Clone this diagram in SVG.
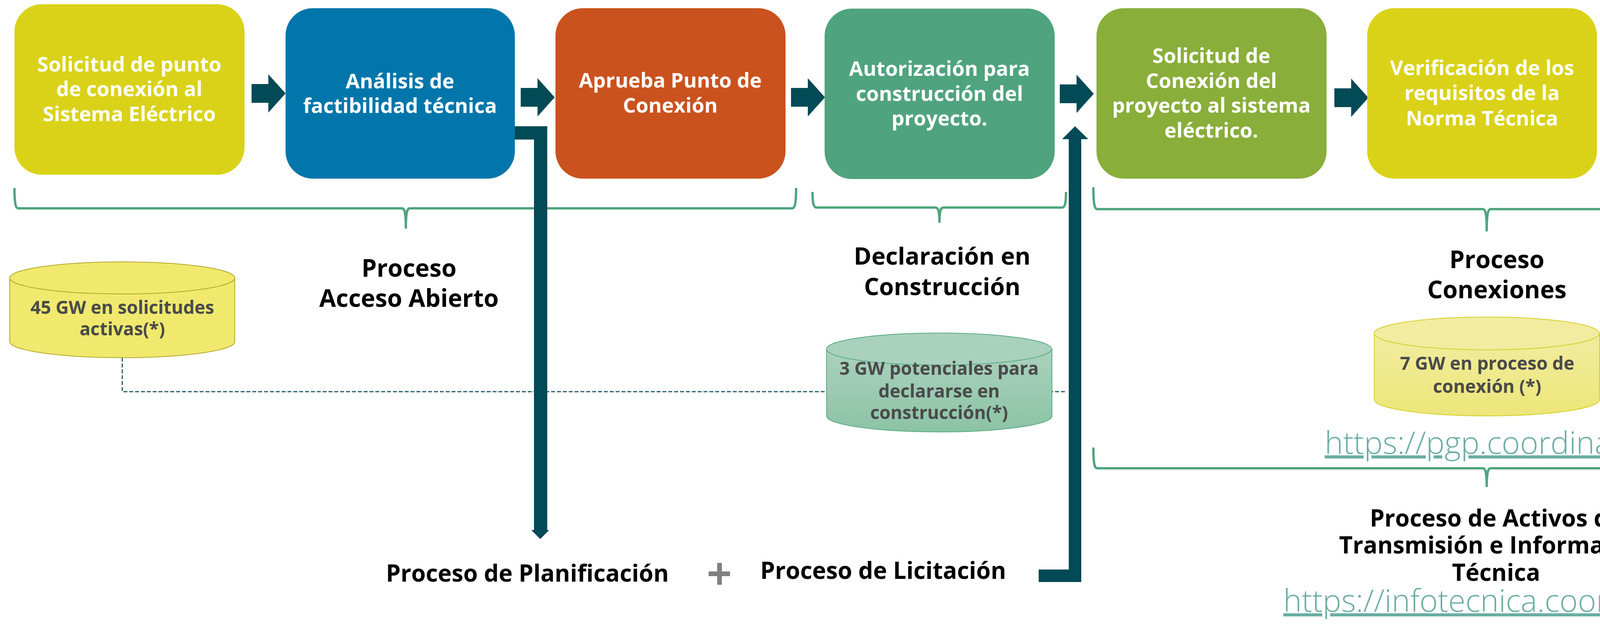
<svg xmlns="http://www.w3.org/2000/svg" width="4813" height="1622" viewBox="0 0 4813 1622">
<style>
.box text{font-family:"Open Sans","Noto Sans",sans-serif;font-weight:700;font-size:52px;fill:#ffffff;text-anchor:middle}
.lbl{font-family:"Open Sans","Noto Sans",sans-serif;font-weight:700;fill:#000000;text-anchor:middle}
.cyl text{font-family:"Open Sans","Noto Sans",sans-serif;font-weight:700;font-size:46px;fill:#4a4a4a;text-anchor:middle}
.url{font-family:"Open Sans","Noto Sans",sans-serif;font-weight:300;font-size:80px;fill:#6aada3;text-anchor:middle;text-decoration:underline}
.brace{fill:none;stroke:#4fa57e;stroke-width:6}
.blk{fill:#024a55}
</style>
<defs>
<polygon id="barrow" points="0,-24 43,-24 43,-49 87,0 43,49 43,24 0,24"/>
<linearGradient id="gGreen" x1="0" y1="0" x2="0" y2="1"><stop offset="0" stop-color="#aad2be"/><stop offset="1" stop-color="#8cc3a5"/></linearGradient>
<linearGradient id="gYel" x1="0" y1="0" x2="0" y2="1"><stop offset="0" stop-color="#f1eca0"/><stop offset="1" stop-color="#ede679"/></linearGradient>
</defs>

<g id="braces">
<path class="brace" d="M37,481 C37,520 40,533 47,533 L1029,533 C1036,533 1039,545 1039,585 C1039,545 1042,533 1049,533 L2028,533 C2035,533 2038,520 2038,481"/>
<path class="brace" d="M2080,491 C2080,520 2083,531 2090,531 L2395,531 C2402,531 2405,540 2405,570 C2405,540 2408,531 2415,531 L2719,531 C2726,531 2729,520 2729,491"/>
<path class="brace" d="M2799,479 C2799,522 2802,535 2809,535 L3796,535 C3803,535 3806,548 3806,592 C3806,548 3809,535 3816,535 L4799,535 C4806,535 4809,522 4809,479"/>
<path class="brace" d="M2799,1145 C2799,1186 2802,1198 2809,1198 L3796,1198 C3803,1198 3806,1210 3806,1246 C3806,1210 3809,1198 3816,1198 L4799,1198 C4806,1198 4809,1186 4809,1145"/>
</g>

<g id="connectors">
<path d="M313,915 V1002 H2728" fill="none" stroke="#1f5a63" stroke-width="3" stroke-dasharray="10 5"/>
<use href="#barrow" class="blk" transform="translate(644,239)"/>
<use href="#barrow" class="blk" transform="translate(1333,249)"/>
<use href="#barrow" class="blk" transform="translate(2025,249)"/>
<use href="#barrow" class="blk" transform="translate(2713,240)"/>
<use href="#barrow" class="blk" transform="translate(3416,250)"/>
<use href="#barrow" class="blk" transform="translate(4105,240)"/>
<path d="M1318,340 H1384 V1358" fill="none" stroke="#024a55" stroke-width="34"/>
<polygon class="blk" points="1360,1356 1406,1356 1383,1379"/>
<path d="M2659,1473 H2752 V354" fill="none" stroke="#024a55" stroke-width="32"/>
<polygon class="blk" points="2719,356 2786,356 2752,323"/>
</g>

<g id="n1" class="box"><rect x="37" y="11" width="589" height="436" rx="70" fill="#dad219"/>
<text x="331" y="183">Solicitud de punto</text><text x="331" y="246">de conexión al</text><text x="331" y="310">Sistema Eléctrico</text></g>
<g id="n2" class="box"><rect x="731" y="21" width="587" height="436" rx="70" fill="#0276ab"/>
<text x="1024" y="226">Análisis de</text><text x="1024" y="289">factibilidad técnica</text></g>
<g id="n3" class="box"><rect x="1422" y="21" width="589" height="436" rx="70" fill="#ca521e"/>
<text x="1716" y="224">Aprueba Punto de</text><text x="1716" y="288">Conexión</text></g>
<g id="n4" class="box"><rect x="2111" y="22" width="589" height="436" rx="70" fill="#4fa37e"/>
<text x="2405" y="194">Autorización para</text><text x="2405" y="258">construcción del</text><text x="2405" y="321">proyecto.</text></g>
<g id="n5" class="box"><rect x="2807" y="21" width="589" height="436" rx="70" fill="#89ae3a"/>
<text x="3101" y="161">Solicitud de</text><text x="3101" y="225">Conexión del</text><text x="3101" y="288">proyecto al sistema</text><text x="3101" y="352">eléctrico.</text></g>
<g id="n6" class="box"><rect x="3500" y="21" width="588" height="436" rx="70" fill="#dad219"/>
<text x="3794" y="192">Verificación de los</text><text x="3794" y="256">requisitos de la</text><text x="3794" y="321">Norma Técnica</text></g>
<g id="n7" class="box"><rect x="4192" y="21" width="588" height="436" rx="70" fill="#0070c0"/>
<text x="4486" y="225">Aprueba Entrada en</text><text x="4486" y="288">Operación</text></g>

<g id="c1" class="cyl">
<path d="M25,711 V874 A288,41 0 0 0 601,874 V711 Z" fill="#f0e96e" stroke="#b3a827" stroke-width="2"/>
<ellipse cx="313" cy="711" rx="288" ry="41" fill="#f0e96e" stroke="#b3a827" stroke-width="2"/>
<text x="313" y="803">45 GW en solicitudes</text><text x="313" y="858">activas(*)</text></g>
<g id="c2" class="cyl">
<path d="M2116,893 V1064 A288,41 0 0 0 2693,1064 V893 Z" fill="url(#gGreen)" stroke="#5aab85" stroke-width="2"/>
<ellipse cx="2404" cy="893" rx="288" ry="41" fill="#a9d1bd" stroke="#5aab85" stroke-width="2"/>
<text x="2404" y="959">3 GW potenciales para</text><text x="2404" y="1017">declararse en</text><text x="2404" y="1072">construcción(*)</text></g>
<g id="c3" class="cyl">
<path d="M3518,853 V1022 A288,42 0 0 0 4095,1022 V853 Z" fill="url(#gYel)" stroke="#d6cf2a" stroke-width="2"/>
<ellipse cx="3806" cy="853" rx="288" ry="42" fill="#f1eca0" stroke="#d6cf2a" stroke-width="2"/>
<text x="3807" y="946">7 GW en proceso de</text><text x="3807" y="1005">conexión (*)</text></g>

<g id="labels">
<text class="lbl" font-size="62" x="1047" y="708">Proceso</text>
<text class="lbl" font-size="62" x="1047" y="785">Acceso Abierto</text>
<text class="lbl" font-size="61" x="2412" y="677">Declaración en</text>
<text class="lbl" font-size="61" x="2412" y="755">Construcción</text>
<text class="lbl" font-size="62" x="3832" y="686">Proceso</text>
<text class="lbl" font-size="62" x="3832" y="763">Conexiones</text>
<text class="lbl" font-size="60" x="3830" y="1347">Proceso de Activos de</text>
<text class="lbl" font-size="60" x="3830" y="1416">Transmisión e Información</text>
<text class="lbl" font-size="60" x="3830" y="1486">Técnica</text>
<text class="lbl" font-size="60" x="1350" y="1488">Proceso de Planificación</text>
<text class="lbl" font-size="60" x="2261" y="1481">Proceso de Licitación</text>
<text class="url" x="3872" y="1161">https://pgp.coordinador.cl/</text>
<text class="url" x="3893" y="1565">https://infotecnica.coordinador.cl/</text>
</g>
<g id="plus" fill="#808080"><rect x="1836" y="1440" width="12" height="56"/><rect x="1814" y="1462" width="55" height="12"/></g>
</svg>
